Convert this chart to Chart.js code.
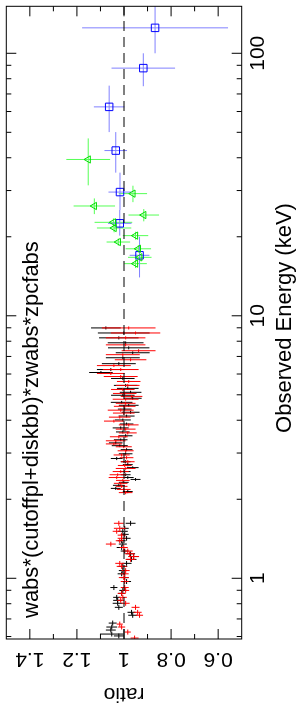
<!DOCTYPE html>
<html>
<head>
<meta charset="utf-8">
<script src="https://cdn.jsdelivr.net/npm/chart.js@4.4.0/dist/chart.umd.min.js"></script>
<style>
html, body { margin: 0; padding: 0; background: #fff; overflow: hidden; }
/* the plot is drawn landscape and turned a quarter turn, as in the source figure */
#wrap { position: absolute; left: 0; top: 0; width: 708px; height: 304px;
        transform-origin: 0 0; transform: translateY(708px) rotate(-90deg); }
</style>
</head>
<body>
<div id="wrap"><canvas id="ratioChart" width="708" height="304"></canvas></div>
<script>
// energies in keV, data/model ratio and errors
const blackEnergy = [8.99, 8.60, 8.24, 7.89, 7.55, 7.23, 6.92, 6.57, 6.24, 6.08, 5.77, 5.43, 5.29, 5.11, 4.98,
  4.85, 4.68, 4.56, 4.41, 4.29, 4.15, 4.01, 3.87, 3.74, 3.61, 3.49, 3.37, 3.28, 3.20, 3.09, 2.98, 2.86, 2.78,
  2.71, 2.64, 2.55, 2.48, 2.42, 2.38, 2.32, 2.26, 2.20, 2.14,
  1.62, 1.55, 1.51, 1.47, 1.42, 1.39, 1.35, 1.31, 1.27, 1.24, 1.21, 1.18, 1.14, 1.11, 1.07, 1.04, 1.006, 0.972,
  0.922, 0.899, 0.876, 0.846, 0.824, 0.803, 0.775, 0.742, 0.723, 0.675, 0.652, 0.635, 0.613, 0.603];
const blackEnergyErr = [0.12, 0.11, 0.11, 0.10, 0.10, 0.09, 0.09, 0.09, 0.08, 0.08, 0.08, 0.07, 0.07, 0.07, 0.07,
  0.06, 0.06, 0.06, 0.06, 0.06, 0.05, 0.05, 0.05, 0.05, 0.05, 0.05, 0.04, 0.04, 0.04, 0.04, 0.04, 0.04, 0.04,
  0.04, 0.03, 0.03, 0.03, 0.03, 0.03, 0.03, 0.03, 0.03, 0.03,
  0.035, 0.033, 0.032, 0.031, 0.030, 0.029, 0.028, 0.028, 0.027, 0.026, 0.026, 0.025, 0.024, 0.024, 0.023, 0.022,
  0.021, 0.021, 0.020, 0.019, 0.019, 0.018, 0.018, 0.017, 0.017, 0.016, 0.016, 0.015, 0.014, 0.014, 0.013, 0.013];
const blackRatio = [1.077, 1.001, 1.022, 0.993, 0.980, 0.963, 1.005, 1.022, 1.056, 1.098, 1.005, 0.993, 0.984, 0.972, 1.005,
  0.963, 1.010, 0.980, 0.997, 0.972, 0.989, 1.005, 0.989, 1.014, 1.005, 0.993, 1.014, 1.035, 1.018, 0.989, 0.993, 1.031, 0.993,
  0.984, 0.963, 0.997, 0.993, 0.984, 0.951, 1.001, 1.022, 1.035, 0.984,
  0.972, 0.997, 1.005, 0.997, 0.989, 1.010, 1.005, 1.010, 0.997, 0.972, 0.959, 0.968, 0.989, 1.005, 1.005, 1.010,
  0.997, 0.989, 1.043, 1.005, 1.010, 1.031, 1.027, 1.027, 1.022, 0.968, 0.963, 1.048, 1.052, 1.056, 1.052, 1.022];
const blackRatioErr = [0.063, 0.11, 0.084, 0.076, 0.088, 0.072, 0.072, 0.072, 0.059, 0.05, 0.05, 0.05, 0.046, 0.046, 0.05,
  0.038, 0.046, 0.042, 0.029, 0.038, 0.034, 0.034, 0.029, 0.034, 0.029, 0.029, 0.029, 0.029, 0.034, 0.025, 0.029, 0.025, 0.021,
  0.021, 0.025, 0.025, 0.021, 0.025, 0.021, 0.021, 0.025, 0.021, 0.021,
  0.021, 0.017, 0.021, 0.017, 0.017, 0.017, 0.017, 0.021, 0.017, 0.019, 0.021, 0.021, 0.021, 0.019, 0.017, 0.017,
  0.017, 0.019, 0.015, 0.015, 0.015, 0.015, 0.019, 0.021, 0.017, 0.017, 0.019, 0.017, 0.023, 0.021, 0.05, 0.021];

const redEnergy = [8.99, 8.60, 8.24, 7.75, 7.36, 7.11, 6.80, 6.46, 6.24, 6.03, 5.87, 5.62, 5.43, 5.24, 5.06,
  4.93, 4.81, 4.64, 4.52, 4.37, 4.26, 4.11, 3.97, 3.84, 3.70, 3.58, 3.46, 3.34, 3.25, 3.17, 3.06, 2.95, 2.88,
  2.78, 2.69, 2.62, 2.55, 2.48, 2.42, 2.36, 2.30, 2.24, 2.18, 2.12,
  1.62, 1.55, 1.51, 1.46, 1.42, 1.39, 1.35, 1.31, 1.27, 1.24, 1.21, 1.18, 1.14, 1.11, 1.07, 1.04, 1.006, 0.972,
  0.922, 0.899, 0.876, 0.846, 0.824, 0.803, 0.775, 0.742, 0.723, 0.669, 0.652, 0.624, 0.592];
const redEnergyErr = [0.12, 0.11, 0.11, 0.10, 0.10, 0.09, 0.09, 0.08, 0.08, 0.08, 0.08, 0.07, 0.07, 0.07, 0.07,
  0.06, 0.06, 0.06, 0.06, 0.06, 0.06, 0.05, 0.05, 0.05, 0.05, 0.05, 0.05, 0.04, 0.04, 0.04, 0.04, 0.04, 0.04,
  0.04, 0.04, 0.03, 0.03, 0.03, 0.03, 0.03, 0.03, 0.03, 0.03, 0.03,
  0.035, 0.033, 0.032, 0.031, 0.030, 0.029, 0.028, 0.028, 0.027, 0.026, 0.026, 0.025, 0.024, 0.024, 0.023, 0.022,
  0.021, 0.021, 0.020, 0.019, 0.019, 0.018, 0.018, 0.017, 0.017, 0.016, 0.016, 0.015, 0.014, 0.014, 0.013];
const redRatio = [0.980, 0.951, 0.993, 0.993, 0.938, 1.005, 0.972, 1.043, 1.014, 1.056, 1.014, 0.980, 0.984, 1.005, 0.997,
  0.968, 0.993, 0.993, 0.997, 1.014, 1.001, 1.018, 1.043, 0.980, 0.993, 0.984, 1.022, 1.035, 1.043, 1.001, 0.993, 1.010, 0.989,
  0.984, 0.997, 0.993, 1.014, 1.027, 1.031, 1.005, 1.014, 1.010, 1.001, 0.993,
  1.022, 1.018, 1.031, 1.010, 1.010, 1.018, 1.056, 1.001, 0.984, 0.976, 0.959, 0.972, 1.018, 1.010, 0.993, 0.997,
  1.001, 0.997, 0.997, 0.993, 1.010, 1.005, 1.014, 0.993, 0.951, 0.942, 0.934, 1.018, 1.010, 0.984, 0.955];
const redRatioErr = [0.114, 0.105, 0.084, 0.084, 0.072, 0.072, 0.067, 0.072, 0.076, 0.059, 0.072, 0.05, 0.05, 0.05, 0.05,
  0.046, 0.055, 0.042, 0.046, 0.055, 0.046, 0.046, 0.042, 0.042, 0.042, 0.038, 0.038, 0.042, 0.034, 0.034, 0.034, 0.034, 0.029,
  0.029, 0.029, 0.042, 0.034, 0.034, 0.034, 0.029, 0.029, 0.025, 0.029, 0.029,
  0.021, 0.025, 0.017, 0.017, 0.017, 0.017, 0.021, 0.017, 0.021, 0.021, 0.023, 0.021, 0.019, 0.021, 0.017, 0.017,
  0.021, 0.017, 0.017, 0.015, 0.017, 0.017, 0.015, 0.017, 0.017, 0.017, 0.015, 0.013, 0.015, 0.013, 0.017];

const greenEnergy = [39.4, 29.2, 26.2, 24.2, 22.7, 21.6, 20.2, 19.1, 18.0, 16.7, 15.8];
const greenEnergyErr = [8.0, 2.1, 1.8, 1.3, 0.8, 0.8, 0.7, 0.6, 0.6, 0.6, 0.6];
const greenRatio = [1.152, 0.962, 1.126, 0.916, 1.045, 1.042, 0.951, 1.024, 0.939, 0.933, 0.951];
const greenRatioErr = [0.093, 0.06, 0.088, 0.065, 0.08, 0.073, 0.054, 0.05, 0.054, 0.05, 0.048];

const blueEnergy = [125, 87.8, 62.5, 42.6, 29.6, 22.5, 17.0];
const blueEnergyLo = [25, 12.9, 12.4, 7.5, 4.3, 2.3, 3.0];
const blueEnergyHi = [31, 12.2, 12.8, 7.5, 5.5, 2.8, 3.0];
const blueRatio = [0.868, 0.918, 1.063, 1.035, 1.017, 1.018, 0.934];
const blueRatioErr = [0.31, 0.135, 0.065, 0.048, 0.049, 0.05, 0.042];

// axes
const energyMin = 0.587, energyMax = 151;
const ratioMin = 0.5, ratioMax = 1.5;
const energyMajorTicks = [1, 10, 100];
const energyMinorTicks = [0.6, 0.7, 0.8, 0.9, 2, 3, 4, 5, 6, 7, 8, 9, 20, 30, 40, 50, 60, 70, 80, 90];
const ratioMajorTicks = [0.6, 0.8, 1, 1.2, 1.4];
const ratioMinorTicks = [0.7, 0.9, 1.1, 1.3];
const ratioTickLabels = ['0.6', '0.8', '1', '1.2', '1.4'];
const modelTitle = 'wabs*(cutoffpl+diskbb)*zwabs*zpcfabs';

const FONT = '"Liberation Sans", Arial, Helvetica, sans-serif';

function points(en, ra) {
    return en.map((e, i) => ({ x: e, y: ra[i] }));
}

// Error bars: energy bin across, ratio error up/down
const errorBars = {
    id: 'errorBars',
    beforeDatasetsDraw(chart) {
        const { ctx, chartArea: a, scales: { x, y } } = chart;
        ctx.save();
        ctx.beginPath();
        ctx.rect(a.left, a.top, a.right - a.left, a.bottom - a.top);
        ctx.clip();
        chart.data.datasets.forEach(ds => {
            if (!ds.errors) return;
            const err = ds.errors;
            ctx.strokeStyle = ds.barColor;
            ctx.lineWidth = 1;
            ctx.beginPath();
            ds.data.forEach((p, i) => {
                const px = x.getPixelForValue(p.x);
                const py = y.getPixelForValue(p.y);
                ctx.moveTo(x.getPixelForValue(p.x - err.eLo[i]), py);
                ctx.lineTo(x.getPixelForValue(p.x + err.eHi[i]), py);
                ctx.moveTo(px, y.getPixelForValue(p.y - err.r[i]));
                ctx.lineTo(px, y.getPixelForValue(p.y + err.r[i]));
            });
            ctx.stroke();
        });
        ctx.restore();
    }
};

// Frame, inward ticks on all sides, labels in the old plotting style
const frame = {
    id: 'frame',
    afterDraw(chart) {
        const { ctx, chartArea: a, scales: { x, y } } = chart;
        ctx.save();
        ctx.strokeStyle = '#000';
        ctx.lineWidth = 1;
        ctx.strokeRect(a.left, a.top, a.right - a.left, a.bottom - a.top);

        ctx.beginPath();
        const xTick = (v, len) => {
            const px = x.getPixelForValue(v);
            ctx.moveTo(px, a.top); ctx.lineTo(px, a.top + len);
            ctx.moveTo(px, a.bottom); ctx.lineTo(px, a.bottom - len);
        };
        const yTick = (v, len) => {
            const py = y.getPixelForValue(v);
            ctx.moveTo(a.left, py); ctx.lineTo(a.left + len, py);
            ctx.moveTo(a.right, py); ctx.lineTo(a.right - len, py);
        };
        energyMajorTicks.forEach(v => xTick(v, 10));
        energyMinorTicks.forEach(v => xTick(v, 5));
        ratioMajorTicks.forEach(v => yTick(v, 10));
        ratioMinorTicks.forEach(v => yTick(v, 5));
        ctx.stroke();

        ctx.fillStyle = '#000';
        ctx.font = '21px ' + FONT;
        ctx.textAlign = 'center';
        ctx.textBaseline = 'middle';
        energyMajorTicks.forEach(v => ctx.fillText(String(v), x.getPixelForValue(v), 258));

        ctx.textBaseline = 'alphabetic';
        ctx.font = '22px ' + FONT;
        ctx.fillText('Observed Energy (keV)', 390, 291);

        ctx.textAlign = 'left';
        ctx.fillText(modelTitle, 90, 38);

        // ratio labels read along the axis
        ctx.font = '21px ' + FONT;
        ctx.textAlign = 'center';
        ratioMajorTicks.forEach((v, i) => {
            ctx.save();
            ctx.translate(55, y.getPixelForValue(v));
            ctx.rotate(-Math.PI / 2);
            ctx.fillText(ratioTickLabels[i], 0, 0);
            ctx.restore();
        });
        ctx.save();
        ctx.translate(20, (a.top + a.bottom) / 2);
        ctx.rotate(-Math.PI / 2);
        ctx.fillText('ratio', 0, 0);
        ctx.restore();
        ctx.restore();
    }
};

const ctx = document.getElementById('ratioChart').getContext('2d');
window.ratioChart = new Chart(ctx, {
    type: 'scatter',
    data: {
        datasets: [
            {
                type: 'line',
                data: [{ x: energyMin, y: 1 }, { x: energyMax, y: 1 }],
                borderColor: '#000',
                borderWidth: 1,
                borderDash: [10, 6],
                pointRadius: 0
            },
            {
                data: points(blackEnergy, blackRatio),
                errors: { eLo: blackEnergyErr, eHi: blackEnergyErr, r: blackRatioErr },
                barColor: '#000',
                pointRadius: 0
            },
            {
                data: points(redEnergy, redRatio),
                errors: { eLo: redEnergyErr, eHi: redEnergyErr, r: redRatioErr },
                barColor: '#ff0000',
                pointRadius: 0
            },
            {
                data: points(greenEnergy, greenRatio),
                errors: { eLo: greenEnergyErr, eHi: greenEnergyErr, r: greenRatioErr },
                barColor: '#55ff55',
                pointStyle: 'triangle',
                pointRadius: 4.2,
                borderColor: '#00dd00',
                backgroundColor: 'rgba(0,0,0,0)',
                borderWidth: 1
            },
            {
                data: points(blueEnergy, blueRatio),
                errors: { eLo: blueEnergyLo, eHi: blueEnergyHi, r: blueRatioErr },
                barColor: '#8080ff',
                pointStyle: 'rect',
                pointRadius: 5.3,
                borderColor: '#0000ff',
                backgroundColor: 'rgba(0,0,0,0)',
                borderWidth: 1
            }
        ]
    },
    options: {
        responsive: false,
        animation: false,
        layout: { padding: { top: 4.5, right: 0, left: 0, bottom: 0 } },
        plugins: { legend: { display: false }, tooltip: { enabled: false } },
        scales: {
            x: {
                type: 'logarithmic',
                min: energyMin,
                max: energyMax,
                ticks: { display: false },
                grid: { display: false },
                border: { display: false },
                afterFit: scale => { scale.height = 62.3; }
            },
            y: {
                min: ratioMin,
                max: ratioMax,
                ticks: { display: false },
                grid: { display: false },
                border: { display: false },
                afterFit: scale => { scale.width = 69; }
            }
        }
    },
    plugins: [errorBars, frame]
});
</script>
</body>
</html>
